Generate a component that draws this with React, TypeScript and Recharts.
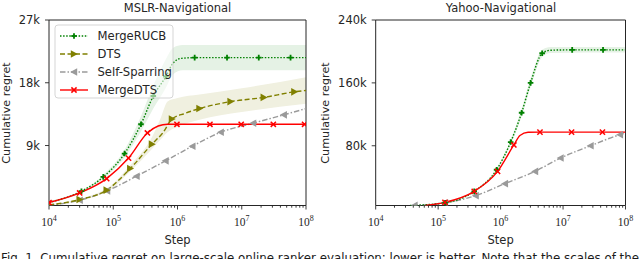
import React from 'react';
import { ComposedChart, Line, Area, XAxis, YAxis, ReferenceArea } from 'recharts';

// ---------- tick labels ----------
const xDecades = [1e4, 1e5, 1e6, 1e7, 1e8];
const xMinorMultipliers = [2, 3, 4, 5, 6, 7, 8, 9];
const leftYTicks = [9000, 18000, 27000];
const rightYTicks = [80000, 160000, 240000];
const leftYDomain = [400, 27000];
const rightYDomain = [4000, 240000];

// ---------- MSLR-Navigational ----------
const mslrMergeRucbSteps = [1e4, 3.2e4, 7e4, 1.5e5, 2.7e5, 4.2e5, 6.6e5, 8.5e5, 1.15e6, 1.85e6, 5.9e6, 1.84e7, 5.75e7, 1e8];
const mslrMergeRucbRegret = [850, 2450, 4500, 7850, 12050, 16100, 18900, 20800, 21500, 21600, 21600, 21600, 21600, 21600];
const mslrMergeRucbMarked = [0, 1, 1, 1, 1, 1, 1, 0, 0, 1, 1, 1, 1, 0];

const mslrDtsSteps = [1e4, 3e4, 7.9e4, 1.84e5, 4e5, 6e5, 8.2e5, 1.3e6, 2.2e6, 6.7e6, 2.2e7, 6.6e7, 1e8];
const mslrDtsRegret = [480, 1250, 2600, 5700, 9200, 10900, 12800, 13600, 14300, 15300, 15900, 16700, 16900];
const mslrDtsMarked = [0, 1, 1, 1, 1, 0, 1, 0, 1, 1, 1, 1, 0];

const mslrSelfSparringSteps = [1e4, 3e4, 8e4, 2.3e5, 6.5e5, 1.7e6, 4.7e6, 1.5e7, 4.5e7, 1e8];
const mslrSelfSparringRegret = [450, 1150, 2500, 4600, 6800, 8900, 10900, 12200, 13400, 14300];
const mslrSelfSparringMarked = [0, 1, 1, 1, 1, 1, 1, 1, 1, 0];

const mslrMergeDtsSteps = [1e4, 3e4, 7.9e4, 1.73e5, 3.4e5, 5e5, 7e5, 9.8e5, 3.2e6, 9.8e6, 3.1e7, 9.5e7, 1e8];
const mslrMergeDtsRegret = [820, 2200, 4260, 7200, 10800, 11800, 12050, 12050, 12050, 12050, 12050, 12050, 12050];
const mslrMergeDtsMarked = [1, 1, 1, 1, 1, 0, 0, 1, 1, 1, 1, 1, 0];

const mslrMergeRucbBandSteps = [1e4, 7e4, 1.5e5, 2.7e5, 4.2e5, 6.6e5, 8.5e5, 1.2e6, 1e8];
const mslrMergeRucbBandLow = [700, 4200, 7300, 11000, 14300, 17300, 19200, 19800, 19800];
const mslrMergeRucbBandHigh = [1000, 4800, 8400, 13200, 17600, 21400, 23000, 23400, 23400];

const mslrDtsBandSteps = [1e4, 7.9e4, 1.84e5, 4e5, 5.5e5, 7e5, 1e6, 2.2e6, 1e7, 1e8];
const mslrDtsBandLow = [420, 2350, 5300, 8500, 9900, 10900, 11700, 12700, 13800, 15000];
const mslrDtsBandHigh = [560, 2850, 6200, 10200, 13000, 15300, 15800, 16300, 17200, 18800];

// ---------- Yahoo-Navigational ----------
const yahooMergeRucbSteps = [3.55e4, 1.29e5, 3.78e5, 8.63e5, 1.45e6, 2.17e6, 3.02e6, 4.63e6, 6.3e6, 1.4e7, 4.37e7, 1e8];
const yahooMergeRucbRegret = [4000, 7500, 22000, 49500, 84700, 122000, 160000, 197700, 201500, 202000, 202000, 202000];
const yahooMergeRucbMarked = [0, 1, 1, 1, 1, 1, 1, 1, 0, 1, 1, 0];

const yahooSelfSparringSteps = [3.8e4, 4.17e4, 1.285e5, 3.98e5, 1.17e6, 3.55e6, 9.1e6, 2.75e7, 8.13e7, 1e8];
const yahooSelfSparringRegret = [4000, 4100, 7300, 16500, 31800, 47400, 64400, 80000, 94000, 96000];
const yahooSelfSparringMarked = [0, 1, 1, 1, 1, 1, 1, 1, 1, 0];

const yahooMergeDtsSteps = [6.3e4, 1.285e5, 3.78e5, 8.95e5, 1.63e6, 2.04e6, 2.75e6, 4.27e6, 1.37e7, 4.27e7, 1e8];
const yahooMergeDtsRegret = [4100, 8000, 22000, 47400, 81000, 93000, 97200, 97400, 97400, 97400, 97400];
const yahooMergeDtsMarked = [0, 1, 1, 1, 1, 0, 0, 1, 1, 1, 0];

const yahooMergeRucbBandSteps = [3.55e4, 1.29e5, 3.78e5, 8.63e5, 1.45e6, 2.17e6, 3.02e6, 4.63e6, 6.3e6, 1e8];
const yahooMergeRucbBandLow = [4000, 7000, 21000, 47500, 81500, 117000, 154000, 193000, 198000, 198500];
const yahooMergeRucbBandHigh = [4000, 8000, 23000, 51500, 88000, 127000, 166000, 202000, 205500, 205500];

// ---------- styles ----------
const SANS = '"DejaVu Sans", sans-serif';
const SERIF = '"Liberation Serif", serif';
const INK = '#262626';
const GREEN = '#008000';
const OLIVE = '#808000';
const GRAY = '#9a9a9a';
const RED = '#ff0000';

type Kind = 'plus' | 'right' | 'left' | 'cross';
const STYLE: Record<string, { color: string; dash?: string; kind: Kind; width: number }> = {
  MergeRUCB: { color: GREEN, dash: '1.5 1.6', kind: 'plus', width: 1.4 },
  DTS: { color: OLIVE, dash: '5 2.5', kind: 'right', width: 1.4 },
  'Self-Sparring': { color: GRAY, dash: '5.5 2 1.5 2', kind: 'left', width: 1.4 },
  MergeDTS: { color: RED, kind: 'cross', width: 1.4 },
};
const LEGEND_ORDER = ['MergeRUCB', 'DTS', 'Self-Sparring', 'MergeDTS'];

const rows = (steps: number[], vals: number[], marked: number[]) =>
  steps.map((x, i) => ({ x, y: vals[i], m: marked[i] === 1 }));
const bandRows = (steps: number[], lo: number[], hi: number[]) =>
  steps.map((x, i) => ({ x, band: [lo[i], hi[i]] }));

const xTicks: number[] = [];
xDecades.forEach((d, i) => {
  xTicks.push(d);
  if (i < xDecades.length - 1) xMinorMultipliers.forEach((m) => xTicks.push(d * m));
});

function Marker({ kind, x, y, color }: { kind: Kind; x: number; y: number; color: string }) {
  if (kind === 'plus') {
    const s = 2.8;
    return (
      <g>
        <line x1={x - s} x2={x + s} y1={y} y2={y} stroke={color} strokeWidth={1.8} />
        <line x1={x} x2={x} y1={y - s} y2={y + s} stroke={color} strokeWidth={1.8} />
      </g>
    );
  }
  if (kind === 'right')
    return <polygon points={`${x + 3.8},${y} ${x - 3.2},${y - 3.8} ${x - 3.2},${y + 3.8}`} fill={color} />;
  if (kind === 'left')
    return <polygon points={`${x - 3.8},${y} ${x + 3.2},${y - 3.8} ${x + 3.2},${y + 3.8}`} fill={color} />;
  const s = 2.6;
  return (
    <g>
      <line x1={x - s} x2={x + s} y1={y - s} y2={y + s} stroke={color} strokeWidth={1.5} />
      <line x1={x - s} x2={x + s} y1={y + s} y2={y - s} stroke={color} strokeWidth={1.5} />
    </g>
  );
}

const makeDot = (name: string) => (props: any) => {
  const { cx, cy, payload, index } = props;
  if (!payload || !payload.m || cx == null || cy == null) return <g key={`d${index}`} />;
  const st = STYLE[name];
  return (
    <g key={`d${index}`}>
      <Marker kind={st.kind} x={cx} y={cy} color={st.color} />
    </g>
  );
};

const XTick = (props: any) => {
  const { x, y, payload } = props;
  const v = payload.value;
  const major = xDecades.indexOf(v) >= 0;
  const exp = Math.round(Math.log10(v));
  return (
    <g>
      <line x1={x} x2={x} y1={y} y2={y + (major ? 4 : 2.2)} stroke={INK} strokeWidth={0.9} />
      {major && (
        <text x={x} y={y + 20.5} textAnchor="middle" fontFamily={SERIF} fontSize={11.5} fill={INK}>
          <tspan>10</tspan>
          <tspan dy={-4.6} fontSize={8}>{exp}</tspan>
        </text>
      )}
    </g>
  );
};

type SeriesDef = { name: string; data: any[] };
type BandDef = { name: string; data: any[]; fill: string };

function Panel(props: {
  left: number;
  yWidth: number;
  rightMargin: number;
  domain: number[];
  yTicks: number[];
  series: SeriesDef[];
  bands: BandDef[];
}) {
  const { left, yWidth, rightMargin, domain, yTicks, series, bands } = props;
  return (
    <div style={{ position: 'absolute', left, top: 0 }}>
      <ComposedChart width={320} height={259} margin={{ top: 20, right: rightMargin, bottom: 0, left: 0 }}>
        <XAxis
          dataKey="x"
          type="number"
          scale="log"
          domain={[1e4, 1e8]}
          allowDataOverflow
          ticks={xTicks}
          interval={0}
          height={53.5}
          axisLine={false}
          tickLine={false}
          tickSize={0}
          tickMargin={0}
          tick={<XTick />}
        />
        <YAxis
          type="number"
          domain={domain}
          allowDataOverflow
          ticks={yTicks}
          width={yWidth}
          axisLine={false}
          tickSize={4}
          tickMargin={5}
          tickLine={{ stroke: INK, strokeWidth: 0.9 }}
          tick={{ fontSize: 11.5, fill: INK, fontFamily: SANS }}
          tickFormatter={(v: number) => `${v / 1000}k`}
        />
        {bands.map((b) => (
          <Area
            key={`band-${b.name}`}
            data={b.data}
            dataKey="band"
            type="monotone"
            stroke="none"
            fill={b.fill}
            fillOpacity={1}
            isAnimationActive={false}
            dot={false}
            activeDot={false}
          />
        ))}
        {series.map((s) => (
          <Line
            key={s.name}
            data={s.data}
            dataKey="y"
            type="monotone"
            stroke={STYLE[s.name].color}
            strokeWidth={STYLE[s.name].width}
            strokeDasharray={STYLE[s.name].dash}
            dot={makeDot(s.name)}
            activeDot={false}
            isAnimationActive={false}
          />
        ))}
        <ReferenceArea
          x1={1e4}
          x2={1e8}
          y1={domain[0]}
          y2={domain[1]}
          fill="none"
          fillOpacity={0}
          stroke={INK}
          strokeWidth={1}
          strokeOpacity={1}
        />
      </ComposedChart>
    </div>
  );
}

function Overlay() {
  return (
    <svg
      width={640}
      height={259}
      style={{ position: 'absolute', left: 0, top: 0, pointerEvents: 'none' }}
    >
      <text x={177.5} y={11.5} textAnchor="middle" fontFamily={SANS} fontSize={11.5} fill={INK}>
        MSLR-Navigational
      </text>
      <text x={501} y={11.5} textAnchor="middle" fontFamily={SANS} fontSize={11.5} fill={INK}>
        Yahoo-Navigational
      </text>
      <text x={9.5} y={113} transform="rotate(-90 9.5 113)" textAnchor="middle" fontFamily={SANS} fontSize={11.2} fill={INK}>
        Cumulative regret
      </text>
      <text x={329} y={113} transform="rotate(-90 329 113)" textAnchor="middle" fontFamily={SANS} fontSize={11.2} fill={INK}>
        Cumulative regret
      </text>
      <text x={177.5} y={244} textAnchor="middle" fontFamily={SANS} fontSize={11.5} fill={INK}>
        Step
      </text>
      <text x={500.6} y={244} textAnchor="middle" fontFamily={SANS} fontSize={11.5} fill={INK}>
        Step
      </text>
      {/* legend */}
      <rect x={55} y={25} width={118} height={73} rx={3} fill="#ffffff" fillOpacity={0.55} stroke="#d0d0d0" strokeWidth={0.9} />
      {LEGEND_ORDER.map((name, i) => {
        const st = STYLE[name];
        const cy = 36 + i * 18;
        return (
          <g key={name}>
            <line x1={60} x2={88} y1={cy} y2={cy} stroke={st.color} strokeWidth={st.width} strokeDasharray={st.dash} />
            <Marker kind={st.kind} x={74} y={cy} color={st.color} />
            <text x={97.5} y={cy + 4.2} fontFamily={SANS} fontSize={11.6} fill={INK}>
              {name}
            </text>
          </g>
        );
      })}
      <text
        x={1}
        y={261.5}
        fontFamily={SANS}
        fontSize={12}
        fill="#1a1a1a"
        textLength={638}
        lengthAdjust="spacingAndGlyphs"
      >
        Fig. 1. Cumulative regret on large-scale online ranker evaluation; lower is better. Note that the scales of the
      </text>
    </svg>
  );
}

export default function App() {
  const mslrSeries: SeriesDef[] = [
    { name: 'Self-Sparring', data: rows(mslrSelfSparringSteps, mslrSelfSparringRegret, mslrSelfSparringMarked) },
    { name: 'DTS', data: rows(mslrDtsSteps, mslrDtsRegret, mslrDtsMarked) },
    { name: 'MergeRUCB', data: rows(mslrMergeRucbSteps, mslrMergeRucbRegret, mslrMergeRucbMarked) },
    { name: 'MergeDTS', data: rows(mslrMergeDtsSteps, mslrMergeDtsRegret, mslrMergeDtsMarked) },
  ];
  const mslrBands: BandDef[] = [
    { name: 'MergeRUCB', data: bandRows(mslrMergeRucbBandSteps, mslrMergeRucbBandLow, mslrMergeRucbBandHigh), fill: '#e5f2e5' },
    { name: 'DTS', data: bandRows(mslrDtsBandSteps, mslrDtsBandLow, mslrDtsBandHigh), fill: '#f0f0e0' },
  ];
  const yahooSeries: SeriesDef[] = [
    { name: 'Self-Sparring', data: rows(yahooSelfSparringSteps, yahooSelfSparringRegret, yahooSelfSparringMarked) },
    { name: 'MergeRUCB', data: rows(yahooMergeRucbSteps, yahooMergeRucbRegret, yahooMergeRucbMarked) },
    { name: 'MergeDTS', data: rows(yahooMergeDtsSteps, yahooMergeDtsRegret, yahooMergeDtsMarked) },
  ];
  const yahooBands: BandDef[] = [
    { name: 'MergeRUCB', data: bandRows(yahooMergeRucbBandSteps, yahooMergeRucbBandLow, yahooMergeRucbBandHigh), fill: '#e5f2e5' },
  ];
  return (
    <div
      style={{
        position: 'absolute',
        left: 0,
        top: 0,
        width: 640,
        height: 259,
        overflow: 'hidden',
        background: '#ffffff',
      }}
    >
      <Panel left={0} yWidth={49} rightMargin={14} domain={leftYDomain} yTicks={leftYTicks} series={mslrSeries} bands={mslrBands} />
      <Panel left={320} yWidth={55.7} rightMargin={14.5} domain={rightYDomain} yTicks={rightYTicks} series={yahooSeries} bands={yahooBands} />
      <Overlay />
    </div>
  );
}
